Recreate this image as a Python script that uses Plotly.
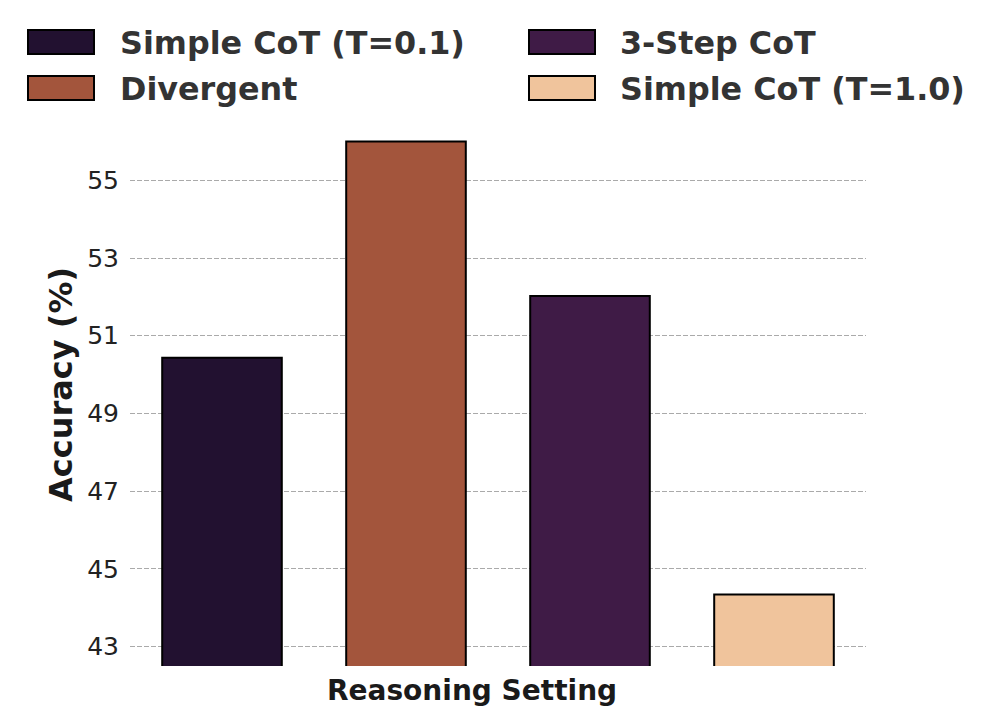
import plotly.graph_objects as go

categories = ["Simple CoT (T=0.1)", "Divergent", "3-Step CoT", "Simple CoT (T=1.0)"]
accuracy = [50.43, 56.0, 52.02, 44.34]
colors = ["#221130", "#a3553c", "#3f1b46", "#f0c49c"]
y_ticks = [43, 45, 47, 49, 51, 53, 55]

W, H = 996, 723
OFF = 8  # page body margin
L, R, T, B = 122, 138, 114, 65
pw, ph = W - L - R, H - T - B

def px_x(x):
    return (x - OFF - L) / pw

def px_y(y):
    return (H - B - (y - OFF)) / ph

fig = go.Figure()
fig.add_trace(go.Bar(
    x=list(range(len(categories))),
    y=accuracy,
    marker=dict(color=colors, line=dict(color="black", width=2)),
    width=0.65,
    showlegend=False,
    hovertext=categories,
))

# manual legend (2 columns, column-major)
legend_cols = [(28, 118), (529, 618)]
legend_rows = [42, 88]
for i, (name, col) in enumerate(zip(categories, colors)):
    cx, tx = legend_cols[i // 2]
    cy = legend_rows[i % 2]
    fig.add_shape(type="rect", xref="paper", yref="paper",
                  x0=px_x(cx), x1=px_x(cx + 66), y0=px_y(cy - 12), y1=px_y(cy + 12),
                  fillcolor=col, line=dict(color="black", width=2))
    fig.add_annotation(xref="paper", yref="paper", x=px_x(tx), y=px_y(cy),
                       xanchor="left", yanchor="middle", showarrow=False, text=name,
                       font=dict(family="DejaVu Sans", size=31.8, color="#333333", weight="bold"))

fig.add_annotation(xref="paper", yref="paper", x=px_x(472), y=px_y(690),
                   xanchor="center", yanchor="middle", showarrow=False,
                   text="Reasoning Setting",
                   font=dict(family="DejaVu Sans", size=28, color="#1a1a1a", weight="bold"))

fig.add_annotation(xref="paper", yref="paper", x=px_x(61), y=px_y(385),
                   xanchor="center", yanchor="middle", showarrow=False, textangle=-90,
                   text="Accuracy (%)",
                   font=dict(family="DejaVu Sans", size=32, color="#1a1a1a", weight="bold"))

fig.update_layout(
    width=W, height=H,
    margin=dict(l=L, r=R, t=T, b=B),
    plot_bgcolor="white", paper_bgcolor="white",
    font=dict(family="DejaVu Sans"),
    xaxis=dict(range=[-0.5, 3.5], showticklabels=False, showgrid=False,
               zeroline=False, showline=False, ticks=""),
    yaxis=dict(range=[42.5, 56.5], tickvals=y_ticks, ticks="",
               showgrid=True, gridcolor="#aaaaaa", gridwidth=1, griddash="5px,2px",
               zeroline=False, showline=False, ticklabelstandoff=10,
               tickfont=dict(family="DejaVu Sans", size=25, color="#222222")),
)

fig.write_html("out.html")
